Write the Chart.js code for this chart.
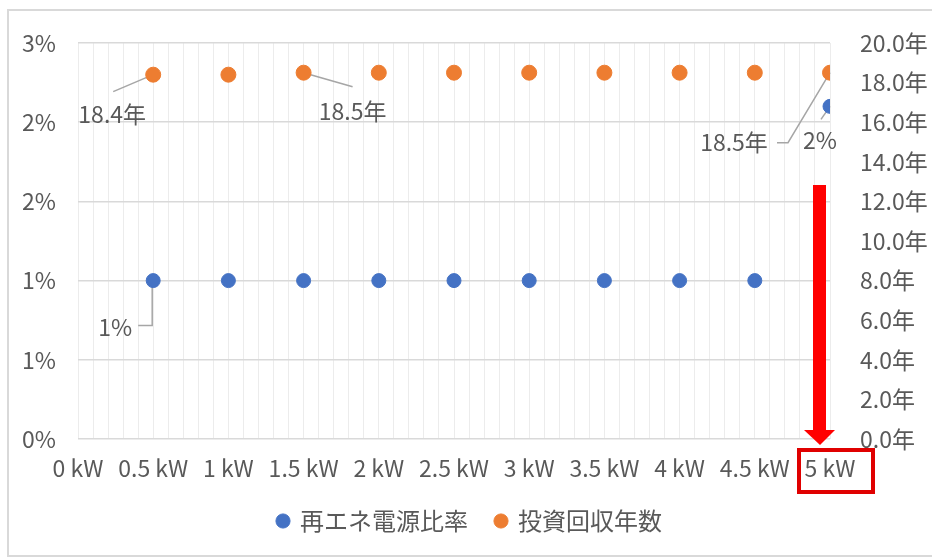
<!DOCTYPE html>
<html lang="ja">
  <head>
    <meta charset="UTF-8" />
    <title>再エネ電源比率と投資回収年数</title>
    <script src="https://cdn.jsdelivr.net/npm/chart.js"></script>
    <style>
      html, body { margin: 0; padding: 0; background: #fff; }
      #wrap { position: relative; width: 932px; height: 557px; overflow: hidden; }
      #frame {
        position: absolute; left: 7px; top: 9px; width: 940px; height: 544px;
        border: 2px solid #d9d9d9; pointer-events: none;
      }
      canvas { position: absolute; left: 0; top: 0; }
    </style>
  </head>
  <body>
    <div id="wrap">
      <canvas id="chart" width="932" height="557"></canvas>
      <div id="frame"></div>
    </div>

    <script>
      // 太陽光の容量 (kW)
      const capacityKW = [0.5, 1, 1.5, 2, 2.5, 3, 3.5, 4, 4.5, 5];
      // 再エネ電源比率 (%)
      const renewableShare = [1.0, 1.0, 1.0, 1.0, 1.0, 1.0, 1.0, 1.0, 1.0, 2.1];
      // 投資回収年数 (年)
      const paybackYears = [18.4, 18.4, 18.5, 18.5, 18.5, 18.5, 18.5, 18.5, 18.5, 18.5];

      const seriesNames = ["再エネ電源比率", "投資回収年数"];
      const BLUE = "#4472c4";
      const ORANGE = "#ed7d31";
      const TEXT = "#595959";
      const FONT = '"Noto Sans CJK JP", "Noto Sans", sans-serif';
      const FONT_SIZE = 23;

      const fmtShare = v => Math.round(v) + "%";
      const fmtYears = v => v.toFixed(1) + "年";

      // ラベル付きの点と引き出し線 (点からの相対位置)
      const callouts = [
        { ds: 1, i: 0, dx: -41, dy: 40, leader: [[-40, 17], [0, 0]] },
        { ds: 1, i: 2, dx: 49, dy: 39, leader: [[0, 0], [49, 14]] },
        { ds: 1, i: 9, dx: -96, dy: 70, leader: [[-53, 70], [-42, 70], [0, 0]] },
        { ds: 0, i: 9, dx: -10, dy: 34, leader: [[-9, 13], [0, 0]] },
        { ds: 0, i: 0, dx: -38, dy: 47, leader: [[-15, 45], [-1, 45], [-1, 0]] }
      ];

      const calloutPlugin = {
        id: "callouts",
        beforeDatasetsDraw(chart) {
          const ctx = chart.ctx;
          ctx.save();
          ctx.strokeStyle = "#a6a6a6";
          ctx.lineWidth = 1.5;
          callouts.forEach(c => {
            const pt = chart.getDatasetMeta(c.ds).data[c.i];
            ctx.beginPath();
            c.leader.forEach(([lx, ly], k) => {
              if (k === 0) ctx.moveTo(pt.x + lx, pt.y + ly);
              else ctx.lineTo(pt.x + lx, pt.y + ly);
            });
            ctx.stroke();
          });
          ctx.restore();
        },
        afterDatasetsDraw(chart) {
          const ctx = chart.ctx;
          ctx.save();
          ctx.fillStyle = TEXT;
          ctx.font = `${FONT_SIZE}px ${FONT}`;
          ctx.textAlign = "center";
          ctx.textBaseline = "middle";
          callouts.forEach(c => {
            const pt = chart.getDatasetMeta(c.ds).data[c.i];
            const v = chart.data.datasets[c.ds].data[c.i].y;
            const txt = c.ds === 0 ? fmtShare(v) : fmtYears(v);
            ctx.fillText(txt, pt.x + c.dx, pt.y + c.dy);
          });
          ctx.restore();
        }
      };

      // 5 kW を指す赤い矢印と枠
      const highlightPlugin = {
        id: "highlight",
        afterDraw(chart) {
          const ctx = chart.ctx;
          const x = chart.scales.x.getPixelForValue(5);
          const bottom = chart.chartArea.bottom;
          ctx.save();
          ctx.fillStyle = "#ff0000";
          ctx.fillRect(x - 17, 185, 13, bottom - 9 - 185);
          ctx.beginPath();
          ctx.moveTo(x - 26, bottom - 9);
          ctx.lineTo(x + 5, bottom - 9);
          ctx.lineTo(x - 10, bottom + 6);
          ctx.closePath();
          ctx.fill();
          ctx.strokeStyle = "#e00000";
          ctx.lineWidth = 4;
          ctx.strokeRect(x - 31, bottom + 11, 74, 42);
          ctx.restore();
        }
      };

      new Chart(document.getElementById("chart"), {
        type: "scatter",
        data: {
          datasets: [
            {
              label: seriesNames[0],
              data: capacityKW.map((x, i) => ({ x, y: renewableShare[i] })),
              yAxisID: "y",
              backgroundColor: BLUE,
              borderColor: BLUE,
              pointRadius: 7,
              pointHoverRadius: 7
            },
            {
              label: seriesNames[1],
              data: capacityKW.map((x, i) => ({ x, y: paybackYears[i] })),
              yAxisID: "y1",
              backgroundColor: ORANGE,
              borderColor: ORANGE,
              pointRadius: 7.5,
              pointHoverRadius: 7.5
            }
          ]
        },
        options: {
          responsive: false,
          devicePixelRatio: 1,
          animation: false,
          layout: { padding: { left: 8, right: 0, top: 43, bottom: 14 } },
          font: { family: FONT, size: FONT_SIZE },
          color: TEXT,
          scales: {
            x: {
              type: "linear",
              min: 0,
              max: 5,
              afterFit: s => { s.height = 42; },
              border: { display: false },
              grid: { color: "#ececec", lineWidth: 1, drawTicks: false },
              ticks: {
                stepSize: 0.1,
                maxTicksLimit: 60,
                autoSkip: false,
                maxRotation: 0,
                minRotation: 0,
                padding: 15,
                color: TEXT,
                font: { family: FONT, size: FONT_SIZE },
                callback: v => (Math.round(v * 10) % 5 === 0 ? `${v} kW` : "")
              }
            },
            y: {
              position: "left",
              min: 0,
              max: 2.5,
              afterFit: s => { s.width = 70; },
              border: { display: false },
              grid: { color: "#d9d9d9", lineWidth: 1.5, drawTicks: false },
              ticks: {
                stepSize: 0.5,
                padding: 22,
                color: TEXT,
                font: { family: FONT, size: FONT_SIZE },
                callback: fmtShare
              }
            },
            y1: {
              position: "right",
              min: 0,
              max: 20,
              afterFit: s => { s.width = 102; },
              border: { display: false },
              grid: { display: false },
              ticks: {
                stepSize: 2,
                padding: 22,
                color: TEXT,
                font: { family: FONT, size: FONT_SIZE },
                callback: fmtYears
              }
            }
          },
          plugins: {
            legend: {
              position: "bottom",
              labels: {
                usePointStyle: true,
                pointStyle: "circle",
                boxWidth: 10,
                boxHeight: 10,
                padding: 28,
                color: TEXT,
                font: { family: FONT, size: 24 }
              }
            },
            tooltip: { enabled: false }
          }
        },
        plugins: [calloutPlugin, highlightPlugin]
      });
    </script>
  </body>
</html>
